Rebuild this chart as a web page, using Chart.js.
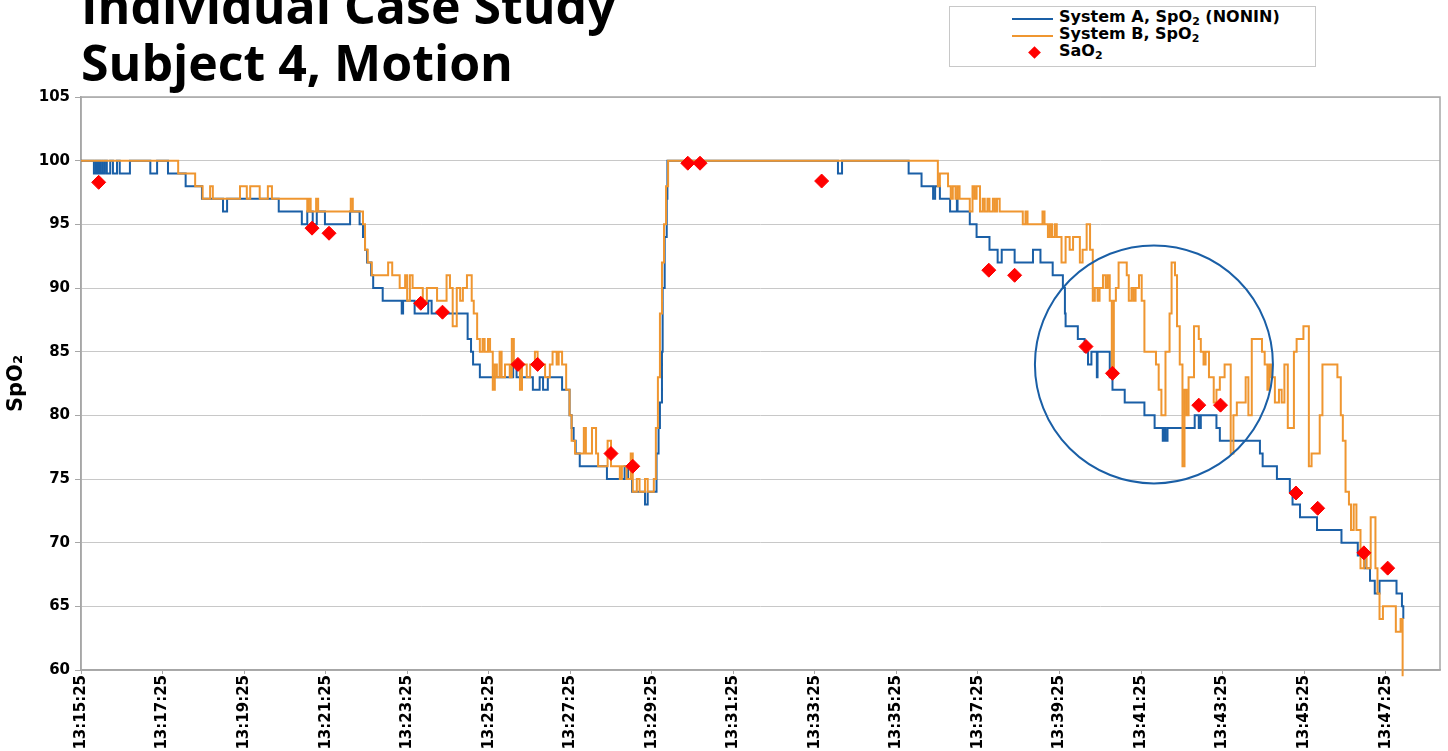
<!DOCTYPE html>
<html>
  <head>
    <title>Individual Case Study - Subject 4, Motion</title>
    <script src="https://cdn.jsdelivr.net/npm/chart.js"></script>
    <style>
      html, body { margin: 0; padding: 0; background: #fff; }
      body { position: relative; width: 1448px; height: 751px; overflow: hidden; }
      #title {
        position: absolute; left: 81px; top: -23px; margin: 0;
        font: 700 50px/57px 'Open Sans', sans-serif; color: #000; white-space: nowrap;
      }
      #legend {
        position: absolute; left: 949px; top: 6px; width: 365px; height: 59px;
        border: 1px solid #c8c8c8; background: #fff;
        font: bold 16px 'DejaVu Sans', sans-serif; color: #000;
      }
      #legend .row { position: absolute; left: 0; height: 17px; width: 100%; }
      #legend .mark { position: absolute; left: 62px; top: 8px; width: 41px; height: 2px; }
      #legend .dia { position: absolute; left: 80px; top: 4px; width: 9px; height: 9px; background: #ff0000; transform: rotate(45deg); }
      #legend .txt { position: absolute; left: 109px; top: -2px; line-height: 17px; white-space: nowrap; }
      #legend sub { font-size: 11px; vertical-align: -3px; line-height: 0; }
      canvas { position: absolute; left: 0; top: 0; }
    </style>
  </head>
  <body>
    <canvas id="myChart" width="1448" height="751"></canvas>
    <h1 id="title">Individual Case Study<br>Subject 4, Motion</h1>
    <div id="legend">
      <div class="row" style="top:3px"><div class="mark" style="background:#1a5fa6"></div><div class="txt">System A, SpO<sub>2</sub> (NONIN)</div></div>
      <div class="row" style="top:20px"><div class="mark" style="background:#ef9630"></div><div class="txt">System B, SpO<sub>2</sub></div></div>
      <div class="row" style="top:37px"><div class="dia"></div><div class="txt">SaO<sub>2</sub></div></div>
    </div>
    <script>
      'use strict'
      // seconds after 13:15:25
      const startClock = 13 * 3600 + 15 * 60 + 25;
      const xTicks = [0, 120, 240, 360, 480, 600, 720, 840, 960, 1080, 1200, 1320, 1440, 1560, 1680, 1800, 1920];

      // System A (NONIN) - change points of the stepped trace
      const sysATime = [0, 19, 22, 24, 26, 28, 31, 32, 35, 38, 43, 47, 53, 57, 72, 102, 112, 128, 154, 178,
        209, 215, 291, 325, 333, 341, 347, 359, 396, 410, 415, 418, 421, 427, 430, 444, 472, 474, 491, 511,
        516, 569, 574, 577, 587, 636, 641, 665, 675, 680, 687, 708, 719, 722, 725, 728, 734, 774, 800, 805,
        811, 830, 834, 847, 850, 852, 855, 856, 859, 862, 863, 1114, 1120, 1218, 1237, 1254, 1257, 1264, 1279, 1289,
        1290, 1308, 1318, 1337, 1349, 1355, 1374, 1401, 1412, 1430, 1445, 1448, 1449, 1467, 1477, 1482, 1487, 1495, 1496, 1514,
        1518, 1536, 1565, 1580, 1592, 1594, 1596, 1599, 1639, 1645, 1648, 1671, 1676, 1735, 1739, 1760, 1779, 1783, 1794, 1819,
        1855, 1879, 1889, 1897, 1904, 1911, 1936, 1944, 1946];
      const sysAValue = [100, 99, 100, 99, 100, 99, 100, 99, 100, 99, 100, 99, 100, 99, 100, 99, 100, 99, 98, 97,
        96, 97, 96, 95, 96, 95, 96, 95, 96, 95, 94, 93, 92, 91, 90, 89, 88, 89, 88, 89,
        88, 86, 85, 84, 83, 84, 83, 82, 83, 82, 83, 82, 80, 79, 78, 77, 76, 75, 76, 75,
        74, 73, 74, 77, 79, 81, 85, 90, 94, 97, 100, 99, 100, 99, 98, 97, 98, 97, 96, 97,
        96, 95, 94, 93, 92, 93, 92, 93, 92, 91, 90, 88, 87, 86, 85, 84, 85, 83, 85, 83,
        82, 81, 80, 79, 78, 79, 78, 79, 80, 79, 80, 79, 78, 77, 76, 75, 74, 73, 72, 71,
        70, 69, 68, 67, 66, 67, 66, 65, 64];

      // System B - change points of the stepped trace
      const sysBTime = [0, 143, 168, 179, 190, 194, 234, 244, 249, 263, 275, 281, 333, 335, 338, 346, 349, 397, 400, 415,
        418, 422, 428, 452, 458, 469, 477, 480, 484, 488, 503, 509, 524, 538, 543, 547, 553, 558, 562, 568,
        575, 578, 583, 587, 591, 594, 599, 602, 606, 609, 612, 616, 619, 624, 631, 634, 637, 646, 649, 656,
        661, 668, 672, 683, 690, 694, 700, 703, 708, 714, 719, 722, 727, 740, 743, 752, 758, 761, 775, 780,
        793, 796, 803, 809, 812, 818, 822, 830, 834, 843, 846, 849, 852, 855, 858, 861, 864,
        1261, 1264, 1276, 1280, 1283, 1287, 1290, 1293, 1308, 1312, 1315, 1318, 1323, 1327, 1330, 1334, 1337, 1342, 1345, 1348,
        1352, 1386, 1390, 1393, 1415, 1418, 1423, 1426, 1429, 1433, 1436, 1443, 1449, 1455, 1460, 1470, 1474, 1480, 1485, 1489,
        1492, 1496, 1499, 1504, 1508, 1511, 1514, 1517, 1520, 1523, 1527, 1539, 1542, 1546, 1549, 1552, 1557, 1561, 1565, 1582,
        1586, 1590, 1596, 1602, 1605, 1610, 1613, 1617, 1621, 1624, 1627, 1630, 1638, 1645, 1648, 1652, 1655, 1660, 1667, 1671,
        1676, 1683, 1692, 1696, 1701, 1714, 1718, 1723, 1738, 1742, 1746, 1749, 1752, 1757, 1763, 1767, 1771, 1776, 1785, 1789,
        1799, 1807, 1811, 1823, 1827, 1849, 1854, 1857, 1861, 1866, 1869, 1873, 1877, 1883, 1888, 1892, 1898, 1905, 1908, 1911,
        1916, 1935, 1942, 1945];
      const sysBValue = [100, 99, 98, 97, 98, 97, 98, 97, 98, 97, 98, 97, 96, 97, 96, 97, 96, 97, 96, 95,
        93, 92, 91, 92, 91, 90, 91, 89, 91, 90, 89, 90, 89, 91, 90, 87, 90, 89, 90, 91,
        89, 88, 86, 85, 86, 85, 86, 85, 82, 84, 83, 85, 83, 84, 83, 86, 84, 82, 84, 83,
        84, 85, 84, 83, 84, 85, 84, 85, 84, 82, 80, 78, 77, 79, 77, 79, 77, 76, 78, 76,
        75, 76, 75, 77, 74, 75, 74, 75, 74, 75, 79, 83, 88, 92, 95, 98, 100,
        98, 99, 98, 97, 98, 97, 98, 97, 96, 98, 97, 98, 96, 97, 96, 97, 96, 97, 96, 97,
        96, 95, 96, 95, 96, 95, 94, 95, 94, 95, 94, 92, 94, 93, 94, 92, 93, 95, 93, 89,
        90, 89, 90, 91, 90, 91, 89, 83, 89, 90, 92, 91, 89, 90, 89, 90, 91, 89, 85, 84,
        82, 80, 85, 88, 92, 91, 87, 84, 76, 82, 80, 83, 87, 86, 85, 84, 85, 83, 81, 82,
        83, 84, 77, 80, 81, 83, 80, 86, 85, 84, 82, 84, 83, 81, 82, 81, 84, 79, 85, 86,
        87, 76, 77, 80, 84, 83, 80, 78, 74, 73, 71, 73, 71, 68, 69, 68, 72, 68, 66, 64,
        65, 63, 64, 59.5];

      // SaO2 blood samples
      const saoTime = [26, 340, 365, 500, 532, 643, 672, 780, 812, 893, 911, 1090, 1336, 1374, 1479, 1518, 1645, 1677, 1788, 1820, 1888, 1923];
      const saoValue = [98.3, 94.7, 94.3, 88.8, 88.1, 84.0, 84.0, 77.0, 76.0, 99.8, 99.8, 98.4, 91.4, 91.0, 85.4, 83.3, 80.8, 80.8, 73.9, 72.7, 69.2, 68.0];

      // highlighted motion region
      const circleTime = [1579];
      const circleValue = [84.0];

      function clock(sec) {
        const t = startClock + sec;
        const h = Math.floor(t / 3600);
        const m = Math.floor((t % 3600) / 60);
        const s = t % 60;
        return h + ':' + String(m).padStart(2, '0') + ':' + String(s).padStart(2, '0');
      }

      const toPoints = (xs, ys) => xs.map((x, i) => ({ x: x, y: ys[i] }));
      const tickFont = { family: 'DejaVu Sans', weight: 'bold', size: 15 };

      const plotFrame = {
        id: 'plotFrame',
        beforeDatasetsDraw(chart) {
          const a = chart.chartArea;
          const ctx = chart.ctx;
          ctx.save();
          ctx.strokeStyle = '#a6a6a6';
          ctx.lineWidth = 1.5;
          ctx.strokeRect(a.left, a.top, a.right - a.left, a.bottom - a.top);
          ctx.restore();
        }
      };

      new Chart(document.getElementById('myChart'), {
        type: 'line',
        data: {
          datasets: [{
            label: 'SaO₂',
            data: toPoints(saoTime, saoValue),
            showLine: false,
            pointStyle: 'rectRot',
            pointRadius: 7,
            pointBackgroundColor: '#ff0000',
            pointBorderColor: '#ff0000',
            order: 0,
          }, {
            label: 'circle',
            data: toPoints(circleTime, circleValue),
            showLine: false,
            pointStyle: 'circle',
            pointRadius: 119,
            pointBackgroundColor: 'rgba(0,0,0,0)',
            pointBorderColor: '#1a5fa6',
            pointBorderWidth: 2,
            order: 1,
          }, {
            label: 'System B, SpO₂',
            data: toPoints(sysBTime, sysBValue),
            stepped: true,
            borderColor: '#ef9630',
            borderWidth: 2,
            pointRadius: 0,
            clip: false,
            order: 2,
          }, {
            label: 'System A, SpO₂ (NONIN)',
            data: toPoints(sysATime, sysAValue),
            stepped: true,
            borderColor: '#1a5fa6',
            borderWidth: 2,
            pointRadius: 0,
            order: 3,
          }]
        },
        options: {
          responsive: false,
          animation: false,
          devicePixelRatio: 1,
          events: [],
          layout: { autoPadding: false, padding: { top: 97, right: 8, left: 0, bottom: 0 } },
          plugins: {
            legend: { display: false },
            title: { display: false },
            tooltip: { enabled: false },
          },
          scales: {
            x: {
              type: 'linear',
              min: 0,
              max: 2000,
              afterBuildTicks(scale) { scale.ticks = xTicks.map(v => ({ value: v })); },
              afterFit(scale) { scale.height = 81; },
              ticks: {
                autoSkip: false,
                minRotation: 90,
                maxRotation: 90,
                padding: 1,
                color: '#000',
                font: tickFont,
                callback: value => clock(value),
              },
              grid: { drawOnChartArea: false, tickLength: 4, tickColor: '#a6a6a6' },
              border: { color: '#a6a6a6', width: 1.5 },
            },
            y: {
              min: 60,
              max: 105,
              afterFit(scale) { scale.width = 81; },
              ticks: { stepSize: 5, padding: 5, color: '#000', font: tickFont },
              grid: { color: '#c8c8c8', lineWidth: 1, tickLength: 6, tickColor: '#a6a6a6' },
              border: { color: '#a6a6a6', width: 1.5 },
              title: {
                display: true,
                text: 'SpO₂',
                color: '#000',
                padding: { top: 4, bottom: 0 },
                font: { family: 'DejaVu Sans', weight: 'bold', size: 21 },
              },
            }
          }
        },
        plugins: [plotFrame],
      });
    </script>
  </body>
</html>
